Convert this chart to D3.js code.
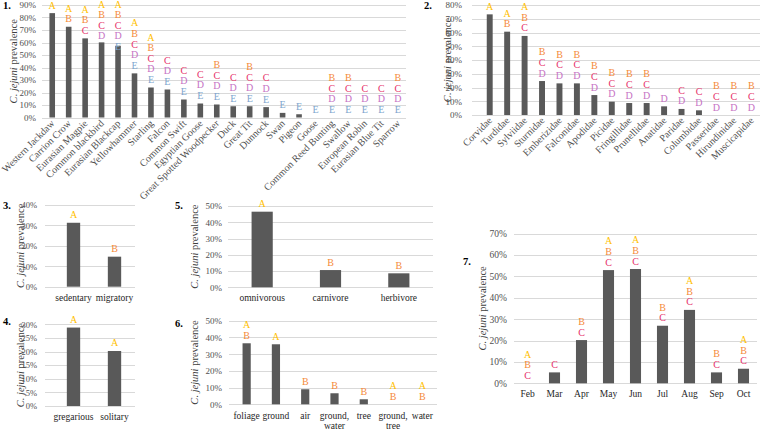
<!DOCTYPE html>
<html><head><meta charset="utf-8">
<script src="https://cdn.jsdelivr.net/npm/d3@7"></script>
<style>
body{margin:0;background:#fff;}
svg{display:block;}
</style></head>
<body><svg id="chart" width="761" height="430"></svg>
<script>
// ---------- DATA ----------
const p1Categories = ["Western Jackdaw","Carrion Crow","Eurasian Magpie","Common blackbird","Eurasian Blackcap","Yellowhammer","Starling","Falcon","Common Swift","Egyptian Goose","Great Spotted Woodpecker","Duck","Great Tit","Dunnock","Swan","Pigeon","Goose","Common Reed Bunting","Swallow","European Robin","Eurasian Blue Tit","Sparrow"];
const p1Values = [0.835,0.726,0.633,0.601,0.574,0.353,0.24,0.224,0.144,0.112,0.104,0.09,0.09,0.083,0.037,0.026,0,0,0,0,0,0];
const p1Letters = ["A","AB","ABC","ABCD","ABCDE","ABCDE","ABCDE","CDE","CDE","CDE","BCDE","CDE","BCDE","CDE","E","E","E","BCDE","BCDE","CDE","CDE","BCDE"];
const p1Ticks = [0,0.1,0.2,0.3,0.4,0.5,0.6,0.7,0.8,0.9];

const p2Categories = ["Corvidae","Turdidae","Sylviidae","Sturnidae","Emberizidae","Falconidae","Apodidae","Picidae","Fringillidae","Prunellidae","Anatidae","Paridae","Columbidae","Passeridae","Hirundinidae","Muscicapidae"];
const p2Values = [0.732,0.606,0.575,0.247,0.23,0.23,0.145,0.097,0.087,0.087,0.063,0.044,0.034,0,0,0];
const p2Letters = ["A","AB","ABC","BCD","BCD","BCD","BCD","BCD","BCD","BCD","D","CD","CD","BCD","BCD","BCD"];
const p2Ticks = [0,0.1,0.2,0.3,0.4,0.5,0.6,0.7,0.8];

const p3Categories = ["sedentary","migratory"];
const p3Values = [0.313,0.147];
const p3Letters = ["A","B"];
const p3Ticks = [0,0.1,0.2,0.3,0.4];

const p4Categories = ["gregarious","solitary"];
const p4Values = [0.288,0.202];
const p4Letters = ["A","A"];
const p4Ticks = [0,0.05,0.1,0.15,0.2,0.25,0.3];

const p5Categories = ["omnivorous","carnivore","herbivore"];
const p5Values = [0.465,0.106,0.086];
const p5Letters = ["A","B","B"];
const p5Ticks = [0,0.1,0.2,0.3,0.4,0.5];

const p6Categories = ["foliage","ground","air","ground,\nwater","tree","ground,\ntree","water"];
const p6Values = [0.365,0.359,0.09,0.066,0.03,0,0];
const p6Letters = ["AB","A","B","B","B","AB","AB"];
const p6Ticks = [0,0.1,0.2,0.3,0.4,0.5];

const p7Categories = ["Feb","Mar","Apr","May","Jun","Jul","Aug","Sep","Oct"];
const p7Values = [0,0.051,0.202,0.529,0.534,0.269,0.343,0.051,0.068];
const p7Letters = ["ABC","C","BC","ABC","ABC","BC","ABC","BC","ABC"];
const p7Ticks = [0,0.1,0.2,0.3,0.4,0.5,0.6,0.7];

// ---------- STYLE ----------
const FONT = '"Liberation Serif", "Tinos", "Times New Roman", serif';
const letterColors = {A:"#FFC000",B:"#F58A3A",C:"#E6336B",D:"#C673C4",E:"#7DA5CE"};
const barColor = "#595959";
const gridColor = "#d9d9d9";
const textColor = "#505050";

const svg = d3.select("#chart").style("font-family",FONT);

function panel(cfg){
  const g = svg.append("g").style("font-family",FONT);
  const x = d3.scaleBand().domain(cfg.categories).range([cfg.x0,cfg.x1])
      .paddingInner(cfg.pad).paddingOuter(cfg.pad/2);
  const y = d3.scaleLinear().domain([0,cfg.ticks[cfg.ticks.length-1]]).range([cfg.y1,cfg.y0]);
  // grid
  g.selectAll("line.grid").data(cfg.ticks).join("line")
    .attr("x1",cfg.gx0).attr("x2",cfg.x1)
    .attr("y1",d=>Math.round(y(d))+0.5).attr("y2",d=>Math.round(y(d))+0.5)
    .attr("stroke",gridColor).attr("stroke-width",1);
  // y tick labels via axis
  const ax = d3.axisLeft(y).tickValues(cfg.ticks).tickFormat(d3.format(".0%")).tickSize(0).tickPadding(0);
  const axg = g.append("g").attr("transform",`translate(${cfg.lx},0)`).call(ax);
  axg.select(".domain").remove();
  axg.selectAll("text").attr("fill",textColor).style("font-family",FONT).style("font-size",(cfg.tfs||9)+"px");
  // bars
  g.selectAll("rect.bar").data(cfg.categories).join("rect")
    .attr("x",d=>x(d)).attr("width",x.bandwidth())
    .attr("y",(d,i)=>y(cfg.values[i])).attr("height",(d,i)=>y(0)-y(cfg.values[i]))
    .attr("fill",barColor);
  // letters
  const sp = cfg.lsp||10.6;
  cfg.categories.forEach((c,i)=>{
    const L = cfg.letters[i].split("");
    let base = y(cfg.values[i]) - (cfg.loff||4.5);
    const topBase = base - sp*(L.length-1);
    if (topBase < cfg.minTop) base += cfg.minTop - topBase;
    L.forEach((ch,k)=>{
      g.append("text").attr("x",x(c)+x.bandwidth()/2)
        .attr("y",base - sp*(L.length-1-k))
        .attr("text-anchor","middle").style("font-family",FONT).style("font-size",(cfg.lfs||10)+"px")
        .attr("fill",letterColors[ch]).text(ch);
    });
  });
  // x labels
  cfg.categories.forEach(c=>{
    const cx = x(c)+x.bandwidth()/2;
    if (cfg.rotate){
      g.append("text").attr("transform",`translate(${cx+3},${cfg.xly}) rotate(-45)`)
        .attr("text-anchor","end").style("font-family",FONT).style("font-size",cfg.xfs+"px")
        .attr("fill",textColor).text(c);
    } else {
      c.split("\n").forEach((ln,k)=>{
        g.append("text").attr("x",cx).attr("y",cfg.xly + k*9.5).attr("dy","0.35em")
          .attr("text-anchor","middle").style("font-family",FONT).style("font-size",cfg.xfs+"px")
          .attr("fill","#262626").text(ln);
      });
    }
  });
  // axis title
  const tt = g.append("text").attr("transform",`translate(${cfg.tx},${(cfg.y0+cfg.y1)/2}) rotate(-90)`)
    .attr("text-anchor","middle").style("font-family",FONT).style("font-size",(cfg.ttfs||10.5)+"px")
    .attr("fill","#404040");
  tt.append("tspan").style("font-style","italic").text("C. jejuni");
  tt.append("tspan").text(" prevalence");
  // panel number
  g.append("text").attr("x",cfg.nx).attr("y",cfg.ny).style("font-weight","bold")
    .style("font-family",FONT).style("font-size","10.5px").attr("fill","#000")
    .attr("dominant-baseline","middle").text(cfg.num);
}

panel({num:"1.",nx:3,ny:7,categories:p1Categories,values:p1Values,letters:p1Letters,ticks:p1Ticks,
  x0:44,x1:406,gx0:42,y0:5,y1:117.5,pad:0.66,lx:36,tx:17,minTop:7.5,rotate:true,xly:124,xfs:10,tfs:9});
panel({num:"2.",nx:424,ny:7,categories:p2Categories,values:p2Values,letters:p2Letters,ticks:p2Ticks,
  x0:481,x1:760,gx0:472,y0:5,y1:115,pad:0.66,lx:462,tx:451,minTop:7.5,rotate:true,xly:121,xfs:10,tfs:9});
panel({num:"3.",nx:3,ny:207,categories:p3Categories,values:p3Values,letters:p3Letters,ticks:p3Ticks,
  x0:53,x1:135,gx0:45,y0:205,y1:286.7,pad:0.675,lx:37,tx:24,minTop:0,xly:298,xfs:9.5,tfs:8.5});
panel({num:"4.",nx:3,ny:323,categories:p4Categories,values:p4Values,letters:p4Letters,ticks:p4Ticks,
  x0:53,x1:135,gx0:45,y0:324.3,y1:406,pad:0.675,lx:37,tx:24,minTop:0,xly:417,xfs:9.5,tfs:8.5});
panel({num:"5.",nx:175,ny:207,categories:p5Categories,values:p5Values,letters:p5Letters,ticks:p5Ticks,
  x0:228,x1:433,gx0:228,y0:206,y1:287.3,pad:0.69,lx:222,tx:198,minTop:0,xly:297.5,xfs:9.5,tfs:9});
panel({num:"6.",nx:175,ny:325,categories:p6Categories,values:p6Values,letters:p6Letters,ticks:p6Ticks,
  x0:232,x1:437,gx0:229,y0:320.7,y1:404.3,pad:0.72,lx:222,tx:198,minTop:0,xly:416,xfs:9.5,tfs:9});
panel({num:"7.",nx:463,ny:263,categories:p7Categories,values:p7Values,letters:p7Letters,ticks:p7Ticks,
  x0:514,x1:757,gx0:514,y0:233.5,y1:383.3,pad:0.59,lx:507,tx:486,minTop:0,xly:394,xfs:9.5,tfs:9.5});
</script></body></html>
